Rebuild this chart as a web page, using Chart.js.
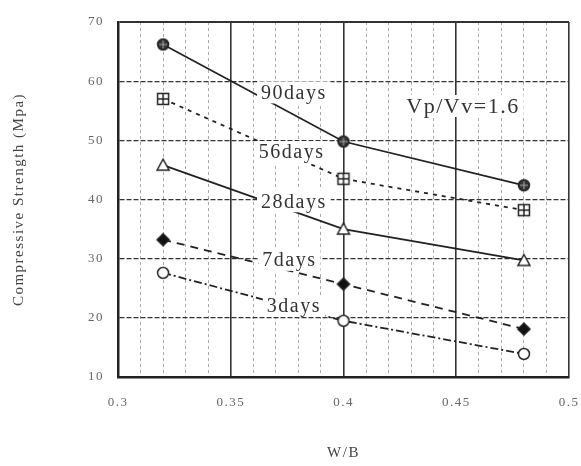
<!DOCTYPE html>
<html><head><meta charset="utf-8">
<script src="https://cdn.jsdelivr.net/npm/chart.js@4/dist/chart.umd.min.js"></script>
<style>html,body{margin:0;padding:0;background:#fff;}#wrap{width:581px;height:466px;}</style>
</head><body><div id="wrap"><canvas id="c" width="581" height="466"></canvas></div>
<script>
const wbRatios = [0.32, 0.40, 0.48];
const seriesNames = ['90days', '56days', '28days', '7days', '3days'];
const strength90 = [66.2, 49.8, 42.4];
const strength56 = [57.0, 43.5, 38.2];
const strength28 = [45.8, 35.0, 29.7];
const strength7 = [33.2, 25.7, 18.1];
const strength3 = [27.6, 19.5, 13.9];
const yTicks = [10, 20, 30, 40, 50, 60, 70];
const xTickLabels = ['0.3', '0.35', '0.4', '0.45', '0.5'];
const labelTexts = ['90days', '56days', '28days', '7days', '3days', 'Vp/Vv=1.6'];
const labelX = [0.378, 0.377, 0.378, 0.376, 0.378, 0.453];
const labelY = [58.1, 48.0, 39.7, 29.8, 22.0, 55.8];

function mk(draw) {
  const c = document.createElement('canvas');
  c.width = 16; c.height = 16;
  const g = c.getContext('2d');
  g.strokeStyle = '#222'; g.lineWidth = 1.5;
  draw(g);
  return c;
}
const mCircleCross = mk(g => {
  g.beginPath(); g.arc(8, 8, 5.5, 0, Math.PI * 2); g.fillStyle = '#333'; g.fill(); g.stroke();
  g.strokeStyle = '#aaa'; g.lineWidth = 1;
  g.beginPath(); g.moveTo(4, 8); g.lineTo(12, 8); g.moveTo(8, 4); g.lineTo(8, 12); g.stroke();
});
const mSquarePlus = mk(g => {
  g.fillStyle = '#fff'; g.fillRect(2.5, 2.5, 11, 11); g.strokeRect(2.5, 2.5, 11, 11);
  g.beginPath(); g.moveTo(2.5, 8); g.lineTo(13.5, 8); g.moveTo(8, 2.5); g.lineTo(8, 13.5); g.stroke();
});
const mTriangle = mk(g => {
  g.fillStyle = '#fff'; g.beginPath(); g.moveTo(8, 2); g.lineTo(14, 13); g.lineTo(2, 13); g.closePath(); g.fill(); g.stroke();
});
const mDiamond = mk(g => {
  g.fillStyle = '#111'; g.beginPath(); g.moveTo(8, 2); g.lineTo(14, 8); g.lineTo(8, 14); g.lineTo(2, 8); g.closePath(); g.fill(); g.stroke();
});
const mCircle = mk(g => {
  g.fillStyle = '#fff'; g.beginPath(); g.arc(8, 8, 5.5, 0, Math.PI * 2); g.fill(); g.stroke();
});

const seriesValues = [strength90, strength56, strength28, strength7, strength3];
const markers = [mCircleCross, mSquarePlus, mTriangle, mDiamond, mCircle];
const dashes = [[], [4, 5], [], [8, 6], [8, 3, 2, 3]];

const datasets = seriesNames.map((n, i) => ({
  label: n,
  data: wbRatios.map((x, j) => ({ x: x, y: seriesValues[i][j] })),
  borderColor: '#222',
  borderWidth: 1.8,
  borderDash: dashes[i],
  pointStyle: markers[i],
  pointRadius: 7,
  showLine: true,
  fill: false
}));

const labelPlugin = {
  id: 'labels',
  afterDatasetsDraw(chart) {
    const ctx = chart.ctx, xs = chart.scales.x, ys = chart.scales.y;
    ctx.save();
    labelTexts.forEach((t, i) => {
      const big = i === 5;
      ctx.font = (big ? '22px' : '20px') + ' "Liberation Serif", serif';
      ctx.letterSpacing = '1.5px';
      const px = xs.getPixelForValue(labelX[i]);
      const py = ys.getPixelForValue(labelY[i]);
      const w = ctx.measureText(t).width;
      ctx.fillStyle = '#fff';
      ctx.fillRect(px - w / 2 - 4, py - 11, w + 8, 22);
      ctx.fillStyle = '#333';
      ctx.textAlign = 'center';
      ctx.textBaseline = 'middle';
      ctx.fillText(t, px, py + 1);
    });
    ctx.restore();
  }
};

const spacingPlugin = {
  id: 'spacing',
  beforeDraw(chart) { chart.ctx.letterSpacing = '1.5px'; }
};

function isMajor(v) { return Math.round(v * 100) % 5 === 0; }

new Chart(document.getElementById('c'), {
  type: 'scatter',
  data: { datasets: datasets },
  plugins: [spacingPlugin, labelPlugin],
  options: {
    responsive: false,
    animation: false,
    devicePixelRatio: 1,
    layout: { padding: { top: 22, right: 12, left: 0, bottom: 0 } },
    plugins: { legend: { display: false }, tooltip: { enabled: false } },
    scales: {
      x: {
        type: 'linear', min: 0.3, max: 0.5,
        afterFit(s) { s.height = 89; s.paddingLeft = 0; s.paddingRight = 0; },
        afterBuildTicks(s) {
          const t = [];
          for (let k = 30; k <= 50; k++) t.push({ value: k / 100 });
          s.ticks = t;
        },
        ticks: {
          autoSkip: false, maxRotation: 0, padding: 18,
          color: '#666', font: { family: '"Liberation Serif", serif', size: 13 },
          callback(v) { const k = Math.round(v * 100); return k % 5 === 0 ? xTickLabels[(k - 30) / 5] : ''; }
        },
        grid: {
          drawTicks: false,
          color: c => isMajor(c.tick.value) ? '#333' : '#aaa',
          lineWidth: c => isMajor(c.tick.value) ? 1.6 : 1
        },
        border: { display: true, color: '#222', width: 2.5, dash: c => (c.tick && !isMajor(c.tick.value)) ? [3, 3] : [] },
        title: { display: true, text: 'W/B', color: '#444', padding: { top: 0, bottom: 4 }, font: { family: '"Liberation Serif", serif', size: 15 } }
      },
      y: {
        type: 'linear', min: 10, max: 70,
        afterFit(s) { s.width = 118; },
        afterBuildTicks(s) { s.ticks = yTicks.map(v => ({ value: v })); },
        ticks: {
          padding: 14, color: '#666',
          font: { family: '"Liberation Serif", serif', size: 13 }
        },
        grid: {
          drawTicks: false,
          color: '#333',
          lineWidth: c => (c.tick.value === 10 || c.tick.value === 70) ? 2 : 1.2
        },
        border: { display: true, color: '#222', width: 2.5, dash: c => (c.tick && c.tick.value !== 10 && c.tick.value !== 70) ? [5, 2] : [] },
        title: { display: true, text: 'Compressive Strength (Mpa)', color: '#444', padding: { top: 10, bottom: 0 }, font: { family: '"Liberation Serif", serif', size: 15 } }
      }
    }
  }
});
</script>
</body></html>
